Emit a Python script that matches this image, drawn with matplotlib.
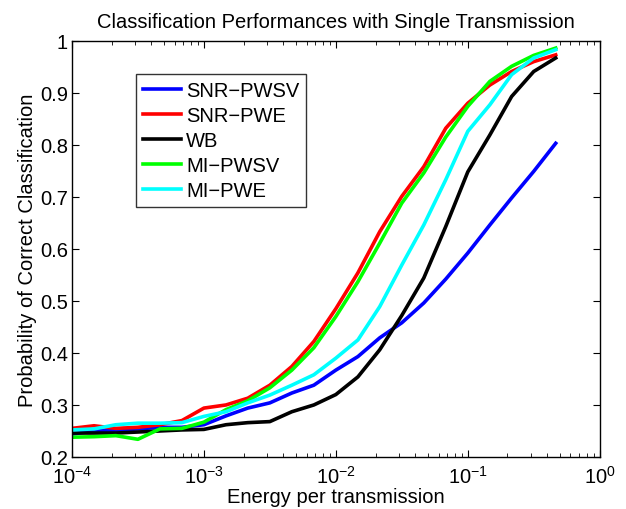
import matplotlib
matplotlib.use("Agg")
import matplotlib.pyplot as plt
from matplotlib.ticker import FormatStrFormatter, LogLocator

plt.rcParams["font.family"] = ["Liberation Sans", "DejaVu Sans"]

# energy per transmission (log spaced sample points)
energy = [1e-4, 1.47e-4, 2.15e-4, 3.16e-4, 4.64e-4, 6.81e-4,
          1e-3, 1.47e-3, 2.15e-3, 3.16e-3, 4.64e-3, 6.81e-3,
          1e-2, 1.47e-2, 2.15e-2, 3.16e-2, 4.64e-2, 6.81e-2,
          1e-1, 1.47e-1, 2.15e-1, 3.16e-1, 4.64e-1]

snr_pwsv = [0.244, 0.250, 0.251, 0.254, 0.257, 0.257, 0.262, 0.279, 0.294, 0.304,
            0.323, 0.338, 0.367, 0.393, 0.429, 0.458, 0.496, 0.542, 0.592, 0.646,
            0.698, 0.749, 0.803]
snr_pwe = [0.255, 0.260, 0.255, 0.257, 0.262, 0.270, 0.294, 0.300, 0.313, 0.338,
           0.374, 0.422, 0.485, 0.554, 0.633, 0.701, 0.758, 0.832, 0.880, 0.915,
           0.941, 0.960, 0.973]
wb = [0.246, 0.246, 0.246, 0.248, 0.250, 0.252, 0.253, 0.262, 0.266, 0.268,
      0.287, 0.300, 0.320, 0.354, 0.406, 0.472, 0.544, 0.643, 0.748, 0.819,
      0.893, 0.941, 0.967]
mi_pwsv = [0.238, 0.239, 0.241, 0.234, 0.254, 0.255, 0.267, 0.291, 0.308, 0.333,
           0.367, 0.410, 0.470, 0.537, 0.611, 0.688, 0.746, 0.815, 0.874, 0.922,
           0.951, 0.972, 0.986]
mi_pwe = [0.252, 0.254, 0.262, 0.265, 0.265, 0.266, 0.278, 0.287, 0.304, 0.319,
          0.338, 0.358, 0.390, 0.425, 0.489, 0.569, 0.646, 0.733, 0.826, 0.877,
          0.935, 0.967, 0.983]

series = [
    ("SNR\u2212PWSV", snr_pwsv, (0, 0, 1)),
    ("SNR\u2212PWE", snr_pwe, (1, 0, 0)),
    ("WB", wb, (0, 0, 0)),
    ("MI\u2212PWSV", mi_pwsv, (0, 1, 0)),
    ("MI\u2212PWE", mi_pwe, (0, 1, 1)),
]

fig = plt.figure(figsize=(6.26, 5.10), dpi=100)
ax = fig.add_axes([0.115, 0.102, 0.843, 0.816])

for name, vals, col in series:
    ax.plot(energy, vals, color=col, linewidth=2.6, label=name)

ax.set_xscale("log")
ax.set_xlim(1e-4, 1)
ax.set_ylim(0.2, 1.0)
ax.set_yticks([0.2, 0.3, 0.4, 0.5, 0.6, 0.7, 0.8, 0.9, 1.0])
ax.yaxis.set_major_formatter(FormatStrFormatter("%g"))
ax.xaxis.set_minor_locator(LogLocator(base=10, subs=range(2, 10)))
ax.tick_params(which="both", direction="in", top=True, right=True, labelsize=14.5)
ax.tick_params(which="major", length=5)
ax.tick_params(which="minor", length=3)
ax.tick_params(axis="x", pad=6)
ax.tick_params(axis="y", pad=3)
for s in ax.spines.values():
    s.set_linewidth(1.0)

ax.set_xlabel("Energy per transmission", fontsize=14.5, labelpad=0)
ax.set_ylabel("Probability of Correct Classification", fontsize=14.5, labelpad=2)
ax.set_title("Classification Performances with Single Transmission", fontsize=14.5, pad=10)

leg = ax.legend(loc="upper left", bbox_to_anchor=(0.121, 0.921), fontsize=14.5,
                frameon=True, fancybox=False, edgecolor="black", borderaxespad=0,
                handlelength=1.9, handletextpad=0.25, labelspacing=0.3,
                borderpad=0.35)
leg.get_frame().set_linewidth(1.0)

fig.savefig("out.png", dpi=100)
